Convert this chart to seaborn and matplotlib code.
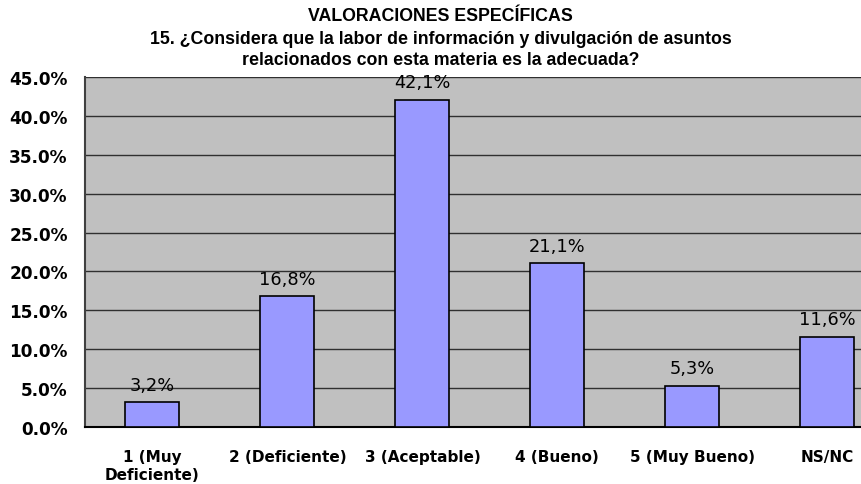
import matplotlib
matplotlib.use('Agg')
import matplotlib.pyplot as plt
import seaborn as sns
import pandas as pd
from matplotlib.ticker import MultipleLocator, FuncFormatter

# Data
categories = ['1 (Muy\nDeficiente)', '2 (Deficiente)', '3 (Aceptable)',
              '4 (Bueno)', '5 (Muy Bueno)', 'NS/NC']
values = [3.2, 16.8, 42.1, 21.1, 5.3, 11.6]
bar_labels = ['3,2%', '16,8%', '42,1%', '21,1%', '5,3%', '11,6%']

df = pd.DataFrame({'categoria': categories, 'valor': values})

sns.set_style('white')
plt.rcParams['font.family'] = ['DejaVu Sans']
plt.rcParams['text.color'] = 'black'
plt.rcParams['xtick.color'] = 'black'
plt.rcParams['ytick.color'] = 'black'

fig = plt.figure(figsize=(8.61, 4.85), dpi=100)
ax = fig.add_axes([85 / 861, 1 - 428 / 485, 1 - 85 / 861, (428 - 78) / 485])
ax.set_facecolor('#C0C0C0')

sns.barplot(data=df, x='categoria', y='valor', color='#9999FF', width=0.4,
            edgecolor='black', linewidth=1.2, saturation=1, ax=ax, zorder=3)

for i, (v, lab) in enumerate(zip(values, bar_labels)):
    ax.annotate(lab, (i, v), xytext=(0, 6), textcoords='offset points',
                ha='center', va='bottom', fontsize=12.8, color='black', zorder=4)

ax.set_ylim(0, 45)
ax.set_xlim(-0.5, 5.25)
ax.yaxis.set_major_locator(MultipleLocator(5))
ax.yaxis.set_major_formatter(FuncFormatter(lambda y, _: f'{y:.1f}%'))
ax.grid(axis='y', color='#303030', linewidth=1, zorder=1)
ax.set_axisbelow(True)

# Excel-style category ticks between bars
ax.set_xticks(range(len(categories)))
ax.set_xticklabels(categories, fontweight='bold', fontsize=11)
ax.set_xticks([i + 0.5 for i in range(len(categories) - 1)], minor=True)
ax.tick_params(axis='x', which='major', length=0, pad=16)
ax.tick_params(axis='x', which='minor', length=5, width=1.5, direction='out', color='black')
ax.tick_params(axis='y', length=5, width=1, direction='inout', color='black', labelsize=12.2, pad=10)
for t in ax.get_yticklabels():
    t.set_fontweight('bold')

ax.set_xlabel('')
ax.set_ylabel('')
for s in ['top', 'right']:
    ax.spines[s].set_visible(False)
ax.spines['left'].set_color('#404040')
ax.spines['left'].set_linewidth(1.5)
ax.spines['bottom'].set_color('black')
ax.spines['bottom'].set_linewidth(1.5)

title_kw = dict(ha='center', va='center', fontsize=12.8, fontweight='bold',
                family='Liberation Sans', color='black')
fig.text(0.512, 0.965, 'VALORACIONES ESPECÍFICAS', **title_kw)
fig.text(0.512, 0.918, '15. ¿Considera que la labor de información y divulgación de asuntos', **title_kw)
fig.text(0.512, 0.876, 'relacionados con esta materia es la adecuada?', **title_kw)

fig.savefig('out.png', dpi=100, facecolor='white')
